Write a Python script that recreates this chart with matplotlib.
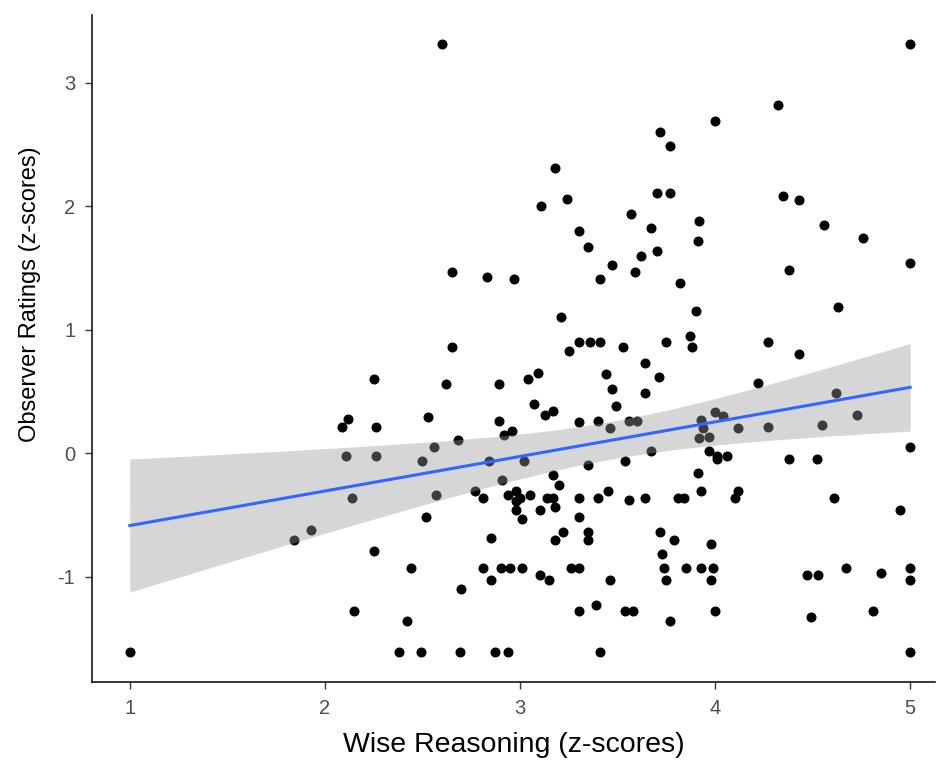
import numpy as np
import matplotlib
matplotlib.use("Agg")
import matplotlib.pyplot as plt

# --- data (wise reasoning vs observer ratings, z-scores) ---
wise = [
    2.60, 3.72, 3.18, 3.70, 3.24, 3.11, 3.57, 3.67, 3.30, 3.35, 3.70, 3.62, 3.47,
    2.65, 3.59, 2.83, 2.97, 3.41, 3.21, 2.65, 3.30, 3.36, 3.41, 3.53, 3.25,
    5.00, 4.32, 4.00, 3.77, 3.77, 4.35, 4.43, 3.92, 4.56, 3.91, 4.76, 5.00,
    3.82, 4.38, 4.63, 3.90, 3.75, 3.87, 3.88, 4.27, 4.43,
    2.25, 2.12, 2.09, 2.26, 2.11, 2.26, 2.14, 1.93, 1.84, 2.25, 2.15, 1.00,
    3.64, 3.71, 3.44, 2.62, 2.89, 3.04, 3.09, 3.47, 3.64, 3.07, 3.49, 3.13, 3.17,
    2.53, 2.89, 3.30, 3.40, 3.56, 3.60, 3.46, 2.96, 2.92, 2.68, 2.56,
    2.50, 2.84, 3.02, 3.67, 3.35, 3.54, 3.17, 2.91, 3.20, 2.77, 2.57, 2.81,
    2.94, 2.98, 3.00, 3.05, 3.14, 3.17, 3.30, 3.40, 3.45, 3.56, 3.64,
    2.98, 3.18, 3.10, 2.98, 3.01, 2.52, 3.30, 3.22, 3.18, 3.35, 3.35, 2.85,
    2.44, 2.81, 2.90, 2.95, 3.01, 3.26, 3.30, 2.85, 3.10, 3.15, 3.46, 2.70,
    2.42, 3.30, 3.39, 3.54, 3.58, 2.38, 2.49, 2.69, 2.87, 2.94, 3.41,
    4.22, 4.62, 4.00, 4.04, 3.93, 4.73, 3.94, 3.92, 3.97, 4.12, 4.27, 4.55,
    3.97, 4.01, 4.06, 4.01, 5.00, 4.38, 4.52, 3.91, 3.93, 3.81, 3.84,
    4.10, 4.12, 4.61, 4.95, 3.72, 3.79, 3.98, 3.73, 3.74, 3.85, 3.93, 3.99,
    3.75, 3.98, 4.47, 4.53, 4.67, 4.85, 5.00, 5.00, 4.00, 3.77, 4.49, 4.81, 5.00,
]
observer = [
    3.31, 2.60, 2.31, 2.11, 2.06, 2.00, 1.94, 1.82, 1.80, 1.67, 1.64, 1.60, 1.52,
    1.47, 1.47, 1.43, 1.41, 1.41, 1.10, 0.86, 0.90, 0.90, 0.90, 0.86, 0.83,
    3.31, 2.82, 2.69, 2.49, 2.11, 2.08, 2.05, 1.88, 1.85, 1.72, 1.74, 1.54,
    1.38, 1.48, 1.18, 1.15, 0.90, 0.95, 0.86, 0.90, 0.80,
    0.60, 0.28, 0.21, 0.21, -0.02, -0.02, -0.36, -0.62, -0.70, -0.79, -1.28, -1.61,
    0.73, 0.62, 0.64, 0.56, 0.56, 0.60, 0.65, 0.52, 0.49, 0.40, 0.38, 0.31, 0.34,
    0.29, 0.26, 0.25, 0.26, 0.26, 0.26, 0.20, 0.18, 0.15, 0.11, 0.05,
    -0.06, -0.06, -0.06, 0.02, -0.10, -0.06, -0.18, -0.22, -0.26, -0.31, -0.34, -0.36,
    -0.34, -0.31, -0.36, -0.34, -0.36, -0.36, -0.36, -0.36, -0.31, -0.38, -0.36,
    -0.39, -0.44, -0.46, -0.46, -0.53, -0.52, -0.52, -0.64, -0.70, -0.64, -0.70, -0.69,
    -0.93, -0.93, -0.93, -0.93, -0.93, -0.93, -0.93, -1.03, -0.99, -1.03, -1.03, -1.10,
    -1.36, -1.28, -1.23, -1.28, -1.28, -1.61, -1.61, -1.61, -1.61, -1.61, -1.61,
    0.57, 0.49, 0.33, 0.30, 0.27, 0.31, 0.20, 0.12, 0.13, 0.20, 0.21, 0.23,
    0.02, -0.02, -0.02, -0.05, 0.05, -0.05, -0.05, -0.16, -0.31, -0.36, -0.36,
    -0.36, -0.31, -0.36, -0.46, -0.64, -0.70, -0.74, -0.82, -0.93, -0.93, -0.93, -0.93,
    -1.03, -1.03, -0.99, -0.99, -0.93, -0.97, -0.93, -1.03, -1.28, -1.36, -1.33, -1.28, -1.61,
]

x_ticks = [1, 2, 3, 4, 5]
y_ticks = [-1, 0, 1, 2, 3]

x = np.array(wise)
y = np.array(observer)

# linear fit + 95% confidence band (like geom_smooth(method="lm"))
n = len(x)
slope, intercept = np.polyfit(x, y, 1)
grid = np.linspace(x.min(), x.max(), 80)
fit = intercept + slope * grid
resid = y - (intercept + slope * x)
s = np.sqrt(np.sum(resid ** 2) / (n - 2))
se = s * np.sqrt(1 / n + (grid - x.mean()) ** 2 / np.sum((x - x.mean()) ** 2))
t_crit = 1.97
lo, hi = fit - t_crit * se, fit + t_crit * se

plt.rcParams['font.family'] = ['Liberation Sans', 'DejaVu Sans']

fig = plt.figure(figsize=(9.37, 7.62), dpi=100)
ax = fig.add_axes([0.098, 0.105, 0.9, 0.875])

ax.scatter(x, y, s=52, color='black', linewidths=0, zorder=2)
ax.fill_between(grid, lo, hi, color='#999999', alpha=0.4, linewidth=0, zorder=3)
ax.plot(grid, fit, color='#3366FF', lw=2.2, zorder=4)

ax.set_xlim(0.805, 5.128)
ax.set_ylim(-1.854, 3.547)
ax.set_xticks(x_ticks)
ax.set_yticks(y_ticks)
ax.set_xticklabels([str(v) for v in x_ticks])
ax.set_yticklabels([str(v) for v in y_ticks])

for side in ['top', 'right']:
    ax.spines[side].set_visible(False)
for side in ['left', 'bottom']:
    ax.spines[side].set_color('black')
    ax.spines[side].set_linewidth(1.1)

ax.tick_params(axis='both', colors='#333333', labelcolor='#4D4D4D',
               labelsize=14.5, length=5, width=1.0, pad=7)
ax.set_xlabel('Wise Reasoning (z-scores)', fontsize=20.5)
ax.set_ylabel('Observer Ratings (z-scores)', fontsize=17)
ax.xaxis.set_label_coords(0.5, -0.075)
ax.yaxis.set_label_coords(-0.06, 0.582)

fig.savefig('out.png', dpi=100, facecolor='white')
